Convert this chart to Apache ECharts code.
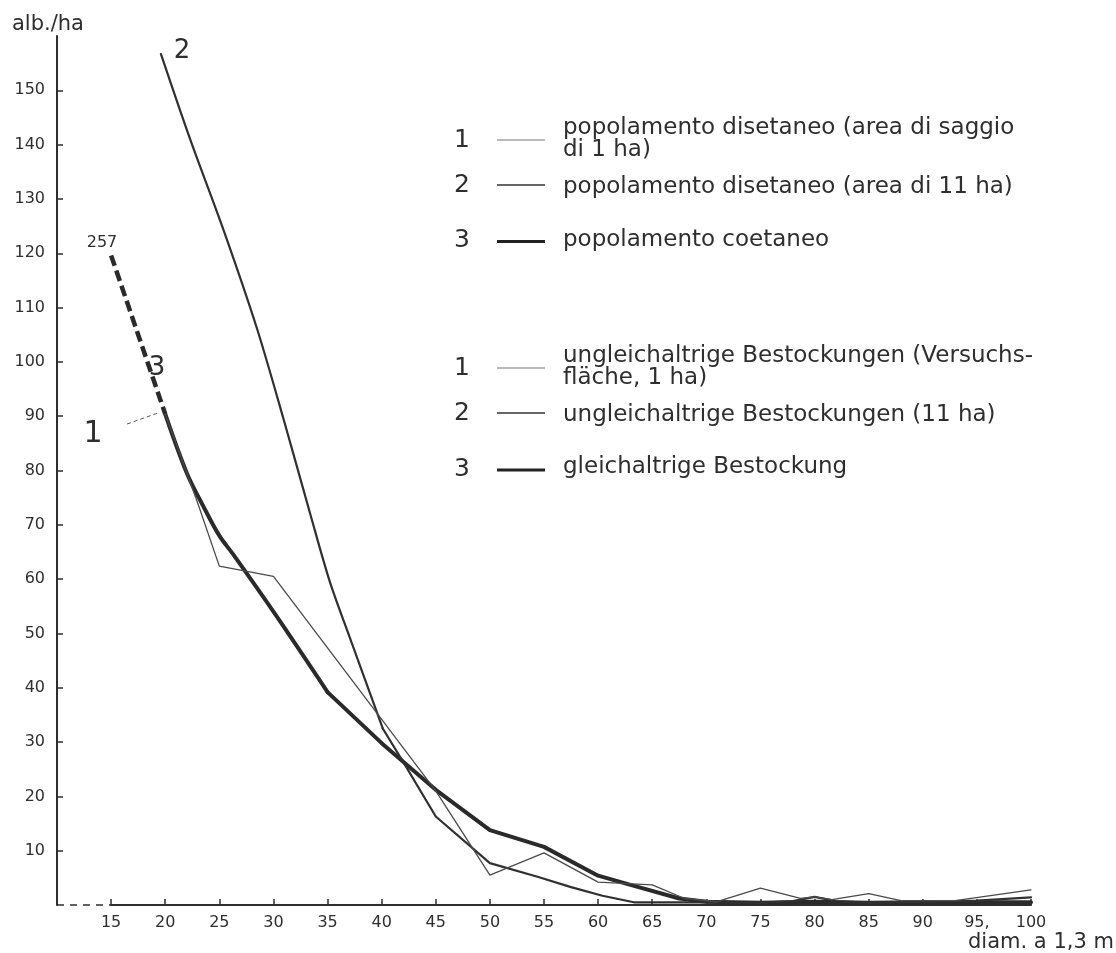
<!DOCTYPE html>
<html>
<head>
<meta charset="utf-8">
<script src="https://cdn.jsdelivr.net/npm/echarts@6/dist/echarts.min.js"></script>
<style>
html,body{margin:0;padding:0;background:#fff;}
#c{width:1116px;height:953px;}
</style>
</head>
<body>
<div id="c"></div>
<script>
// ---- data ----
const xTickValues = [15,20,25,30,35,40,45,50,55,60,65,70,75,80,85,90,95,100];
const xTickLabels = ['15','20','25','30','35','40','45','50','55','60','65','70','75','80','85','90','95,','100'];
const yTickValues = [10,20,30,40,50,60,70,80,90,100,110,120,130,140,150];
const yTickLabels = ['10','20','30','40','50','60','70','80','90','100','110','120','130','140','150'];

// 1: popolamento disetaneo (area di saggio di 1 ha) - thin
const curve1 = [[20,90.4],[23,74],[25,62.4],[30,60.5],[45,21],[50,5.5],[55,9.6],[60,4.2],[65,3.7],[68,1.2],[71,0.6],[75,3.1],[78.7,1.2],[80,1.5],[81.6,1.0],[85,2.1],[88,0.8],[93,0.8],[100,2.8]];
// 2: popolamento disetaneo (area di 11 ha) - medium; hand-drawn curved part, then polyline part
const curve2Curved = [[19.6,156.7],[22.3,141],[25.4,124.2],[28.5,106],[30.9,89.7],[33.4,72],[35.2,59.6],[37.1,49],[40.1,32.5]];
const curve2Rest = [[40.1,32.5],[42,26.3],[45,16.3],[50,7.7],[54.4,5.2],[57.5,3.3],[60.4,1.7],[63.3,0.5],[70,0.5],[75,0.4],[78,0.7],[80,1.5],[82,0.7],[85,0.4],[90,0.6],[95,0.8],[100,1.4]];
// 3: popolamento coetaneo - thick (value at 15 is 257, drawn off scale, dashed)
const curve3Curved = [[20,90.4],[22,79.5],[23.5,73.5],[25,68],[26.3,64.5],[30,54],[35,39.2]];
const curve3Rest = [[35,39.2],[40,29.8],[45,21.2],[50,13.8],[55,10.7],[60,5.4],[63,3.7],[67.5,1.2],[70,0.6],[75,0.4],[80,0.6],[85,0.4],[90,0.5],[95,0.5],[100,0.5]];
const curve3Dashed = [[15,119.6],[20,90.4]];
const offScaleValue = '257';

const xAxisDashedSpan = [[10,0],[15,0]];
const xAxisSolidSpan = [[15,0],[100,0]];

const legendIt = ['popolamento disetaneo (area di saggio\ndi 1 ha)','popolamento disetaneo (area di 11 ha)','popolamento coetaneo'];
const legendDe = ['ungleichaltrige Bestockungen (Versuchs-\nfläche, 1 ha)','ungleichaltrige Bestockungen (11 ha)','gleichaltrige Bestockung'];
const legendNums = ['1','2','3'];
const yAxisTitle = 'alb./ha';
const xAxisTitle = 'diam. a 1,3 m';

// ---- chart ----
const FONT = '"DejaVu Sans", sans-serif';
const INK = '#2e2e2e';
const chart = echarts.init(document.getElementById('c'));

function txt(t, x, y, size, align, color) {
  return {
    type: 'text', x: x, y: y, silent: true,
    style: {
      text: t, fill: color || INK, fontSize: size, fontFamily: FONT,
      align: align || 'left', verticalAlign: 'middle',
      textAlign: align || 'left', textVerticalAlign: 'middle',
      lineHeight: 22
    }
  };
}
function seg(x1, y1, x2, y2, w, color, dash) {
  return {
    type: 'line', silent: true,
    shape: {x1: x1, y1: y1, x2: x2, y2: y2},
    style: {stroke: color || INK, lineWidth: w, lineDash: dash || null}
  };
}

const legendWidths = [1, 1.6, 3.2];
const legendColors = ['#777', '#333', '#222'];
const itDigitY = [140, 185, 240];
const itTextY = [139.5, 187.4, 240.4];
const deDigitY = [368, 413, 469];
const deTextY = [367.5, 415.4, 467.4];

const graphics = [];
for (let i = 0; i < 3; i++) {
  graphics.push(txt(legendNums[i], 462, itDigitY[i], 25, 'center'));
  graphics.push(seg(497, itDigitY[i] + (i === 2 ? 1.5 : 0), 545, itDigitY[i] + (i === 2 ? 1.5 : 0), legendWidths[i], legendColors[i]));
  graphics.push(txt(legendIt[i], 563, itTextY[i], 23, 'left'));
  graphics.push(txt(legendNums[i], 462, deDigitY[i], 25, 'center'));
  graphics.push(seg(497, deDigitY[i] + (i === 2 ? 1 : 0), 545, deDigitY[i] + (i === 2 ? 1 : 0), legendWidths[i], legendColors[i]));
  graphics.push(txt(legendDe[i], 563, deTextY[i], 23, 'left'));
}
// annotations
graphics.push(txt('2', 182, 51.5, 26, 'center'));
graphics.push(txt(offScaleValue, 102, 242.5, 16, 'center'));
graphics.push(txt('3', 157, 368, 26, 'center'));
graphics.push(txt('1', 93, 434.5, 30, 'center'));
graphics.push(seg(127, 424, 158, 413, 1, '#555', [4, 3]));
graphics.push(txt(yAxisTitle, 12, 24.7, 21, 'left'));
graphics.push(txt(xAxisTitle, 968, 942.7, 21, 'left'));

function lineSeries(name, data, width, color, extra) {
  return Object.assign({
    name: name, type: 'line', data: data, symbol: 'none', silent: true, clip: false,
    lineStyle: {color: color, width: width, join: 'round', cap: 'round'}
  }, extra || {});
}

const option = {
  backgroundColor: '#ffffff',
  animation: false,
  textStyle: {fontFamily: FONT, color: INK},
  grid: {left: 57, top: 36, width: 974, height: 869},
  xAxis: {
    type: 'value', min: 10, max: 100, interval: 5,
    axisLine: {show: false},
    axisTick: {show: true, inside: true, length: 6, customValues: xTickValues, lineStyle: {color: INK, width: 1.5}},
    axisLabel: {
      customValues: xTickValues, margin: 10, fontSize: 16, color: INK, fontFamily: FONT,
      formatter: function (v) { const k = xTickValues.indexOf(v); return k >= 0 ? xTickLabels[k] : ''; }
    },
    splitLine: {show: false}
  },
  yAxis: {
    type: 'value', min: 0, max: 160, interval: 10,
    axisLine: {show: true, onZero: false, lineStyle: {color: INK, width: 2}},
    axisTick: {show: true, inside: true, length: 6, customValues: yTickValues, lineStyle: {color: INK, width: 1.5}},
    axisLabel: {
      customValues: yTickValues, margin: 12, fontSize: 16, color: INK, fontFamily: FONT,
      formatter: function (v) { const k = yTickValues.indexOf(v); return k >= 0 ? yTickLabels[k] : ''; }
    },
    splitLine: {show: false}
  },
  graphic: graphics,
  series: [
    lineSeries('x axis (dashed)', xAxisDashedSpan, 1.6, INK, {lineStyle: {color: INK, width: 1.6, type: [7, 6]}}),
    lineSeries('x axis', xAxisSolidSpan, 2, INK),
    lineSeries('popolamento coetaneo (257)', curve3Dashed, 4.5, '#2a2a2a', {lineStyle: {color: '#2a2a2a', width: 4.5, type: [11, 5], cap: 'butt'}}),
    lineSeries('popolamento coetaneo', curve3Curved, 4, '#2a2a2a', {smooth: 0.35}),
    lineSeries('popolamento coetaneo', curve3Rest, 4, '#2a2a2a'),
    lineSeries('popolamento disetaneo (area di 11 ha)', curve2Curved, 2.2, '#303030', {smooth: 0.3}),
    lineSeries('popolamento disetaneo (area di 11 ha)', curve2Rest, 2.2, '#303030'),
    lineSeries('popolamento disetaneo (area di saggio di 1 ha)', curve1, 1.3, '#4a4a4a')
  ]
};
chart.setOption(option);
</script>
</body>
</html>
